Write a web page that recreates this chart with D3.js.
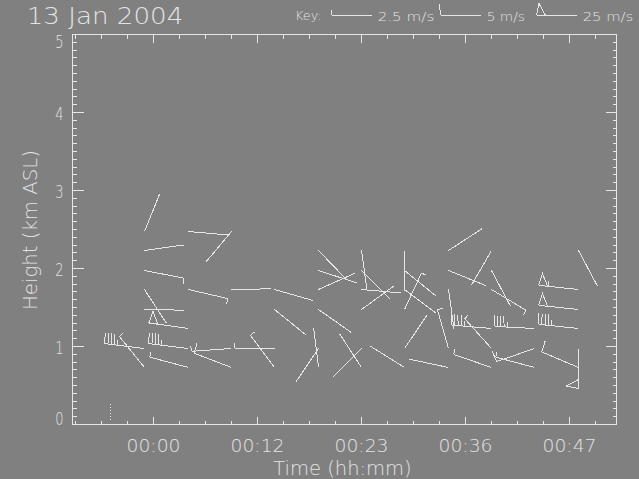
<!DOCTYPE html>
<html><head><meta charset="utf-8">
<script src="https://cdn.jsdelivr.net/npm/d3@7"></script>
<style>html,body{margin:0;padding:0;background:#808080;overflow:hidden}
text{font-family:"DejaVu Sans","Liberation Sans",sans-serif;font-weight:200;fill:#e4e4e4}</style>
</head><body><svg id="c" width="639" height="479"></svg>
<script>
// ---------------- data ----------------
const titleText = "13 Jan 2004";
const xTickValues = [0, 12, 24, 36, 48];               // minutes
const xTickLabels = ["00:00", "00:12", "00:23", "00:36", "00:47"];
const yTickValues = [0, 1, 2, 3, 4, 5];                // km
const keySpeeds = [2.5, 5, 25];
const keyLabels = ["2.5 m/s", "5 m/s", "25 m/s"];
const colTimes = [-1, 4, 9, 14, 19, 24, 29, 34, 39, 44, 49];          // minutes
const gateHeights = [0.73, 0.98, 1.23, 1.48, 1.73, 1.98, 2.23, 2.48];  // km
// one entry per wind barb
const barbCol   = [0,0,0,0,0,0,0, 1,1,1,1,1, 2,2,2,2, 3,3,3,3, 4,4,4,4,4,4, 5,5,5,5,5,5, 6,6,6,6,6,6, 7,7,7,7,7, 8,8,8,8,8,8, 9,9,9, 10,10,10,10,10,10];
const barbGate  = [7,6,5,4,3,1,0, 7,4,2,1,0, 7,4,1,0, 4,3,1,0, 6,5,4,3,1,0, 6,5,4,3,1,0, 6,5,4,3,1,0, 6,5,4,1,0, 6,5,4,2,1,0, 2,1,0, 6,4,3,2,1,0];
const barbDir   = [22,82,101,147,91,277,321, 95,103,278,277,285, 220,89,266,291, 106,129,270,323,
                   136,108,66,125,214,353, 172,135,95,54,225,327, 180,129,127,25,34,302,
                   57,112,172,344,282, 210,152,121,275,318,289, 273,251,285, 152,276,276,276,180,293];
const barbSpeed = [1,1,2.5,1,1,22.5,2.5, 1,2.5,25,22.5,2.5, 1,1,2.5,5, 1,1,2.5,2.5,
                   1,1,1,1,1,1, 1,1,1,1,1,1, 1,1,1,2.5,1,1,
                   1,1,1,2.5,1, 1,1,2.5,22.5,2.5,2.5, 22.5,5,2.5, 1,27.5,25,22.5,25,5];
const markerTime = [-5], markerTop = [0.26], markerBottom = [0.05];

// ---------------- drawing ----------------
const fg = "#e6e6e6";
const svg = d3.select("#c");
svg.append("rect").attr("width",639).attr("height",479).attr("fill","#808080");
const x = d3.scaleLinear().domain([-9.346, 53.423]).range([72.5, 616.5]);
const y = d3.scaleLinear().domain([0, 5]).range([424.5, 34.5]);
const snap = v => Math.round(v - 0.5) + 0.5;

// frame
svg.append("rect").attr("x",x.range()[0]).attr("y",y.range()[1])
  .attr("width",x.range()[1]-x.range()[0]).attr("height",y.range()[0]-y.range()[1])
  .attr("fill","none").attr("stroke",fg).attr("shape-rendering","crispEdges");

const xMinor = d3.range(-9, 54, 3).filter(v => v % 12 !== 0);
const yMinor = d3.range(0, 51).filter(i => i % 10 !== 0).map(i => i / 10);
function axisG(gen, tr){
  const g = svg.append("g").attr("transform", tr).call(gen);
  g.select(".domain").remove();
  g.selectAll("line").attr("stroke", fg).attr("shape-rendering","crispEdges");
  g.selectAll("text").remove();
  return g;
}
const X0 = x.range()[0], X1 = x.range()[1], Y0 = y.range()[0], Y1 = y.range()[1];
axisG(d3.axisBottom(x).tickValues(xMinor).tickSizeInner(-4).tickSizeOuter(0).offset(0), `translate(0,${Y0})`);
axisG(d3.axisBottom(x).tickValues(xTickValues).tickSizeInner(-8).tickSizeOuter(0).offset(0), `translate(0,${Y0})`);
axisG(d3.axisTop(x).tickValues(xMinor).tickSizeInner(-4).tickSizeOuter(0).offset(0), `translate(0,${Y1})`);
axisG(d3.axisTop(x).tickValues(xTickValues).tickSizeInner(-8).tickSizeOuter(0).offset(0), `translate(0,${Y1})`);
axisG(d3.axisLeft(y).tickValues(yMinor).tickSizeInner(-4).tickSizeOuter(0).offset(0), `translate(${X0},0)`);
axisG(d3.axisLeft(y).tickValues(yTickValues).tickSizeInner(-11).tickSizeOuter(0).offset(0), `translate(${X0},0)`);
axisG(d3.axisRight(y).tickValues(yMinor).tickSizeInner(-4).tickSizeOuter(0).offset(0), `translate(${X1},0)`);
axisG(d3.axisRight(y).tickValues(yTickValues).tickSizeInner(-11).tickSizeOuter(0).offset(0), `translate(${X1},0)`);

// tick labels
svg.append("g").selectAll("text").data(xTickValues).join("text")
  .attr("x", d => x(d)).attr("y", 451.7).attr("text-anchor","middle")
  .attr("font-size", 18.4).attr("textLength", 54).attr("lengthAdjust","spacingAndGlyphs")
  .text((d,i) => xTickLabels[i]);
svg.append("g").selectAll("text").data(yTickValues).join("text")
  .attr("x", 63.5).attr("text-anchor","end")
  .attr("y", d => Math.max(Y1 + 7, Math.min(Y0 - 6.5, y(d) + 1)) + 6.5)
  .attr("font-size", 18.2).attr("textLength", 8.3).attr("lengthAdjust","spacingAndGlyphs")
  .text(d => String(d));

// titles
svg.append("text").attr("x", 26.7).attr("y", 24).attr("font-size", 23.7)
  .attr("textLength", 156.6).attr("lengthAdjust","spacingAndGlyphs").text(titleText);
svg.append("text").attr("x", 273.3).attr("y", 475).attr("font-size", 19.2)
  .attr("textLength", 138.4).attr("lengthAdjust","spacingAndGlyphs").text("Time (hh:mm)");
svg.append("text").attr("transform","translate(36.7,230) rotate(-90)").attr("text-anchor","middle")
  .attr("font-size", 19.2).attr("textLength", 160).attr("lengthAdjust","spacingAndGlyphs")
  .text("Height (km ASL)");

// wind barb geometry
function barbPath(x0, y0, dirDeg, speed){
  const th = dirDeg * Math.PI / 180;
  const ux = Math.sin(th), uy = -Math.cos(th);   // staff direction
  const vx = Math.cos(th), vy = Math.sin(th);    // tick direction
  const L = 40;
  const ex = x0 + L*ux, ey = y0 + L*uy;
  let p = `M${x0},${y0}L${ex},${ey}`;
  let n = Math.round(speed / 2.5);
  const pen = Math.floor(n / 10); n -= pen * 10;
  const full = Math.floor(n / 2), half = n % 2;
  let s = 0;
  const at = d => [ex - d*ux, ey - d*uy];
  for (let k = 0; k < pen; k++){
    const a = at(s), b = at(s + 9), c0 = at(s + 2.5);
    const c = [c0[0] + 12*vx, c0[1] + 12*vy];
    p += `M${a[0]},${a[1]}L${c[0]},${c[1]}L${b[0]},${b[1]}`;
    s += 10;
  }
  for (let k = 0; k < full; k++){
    const a = at(s);
    p += `M${a[0]},${a[1]}L${a[0] + 11*vx + 1*ux},${a[1] + 11*vy + 1*uy}`;
    s += 3.2;
  }
  if (half){
    const a = at(s);
    p += `M${a[0]},${a[1]}L${a[0] + 5.5*vx + 0.5*ux},${a[1] + 5.5*vy + 0.5*uy}`;
  }
  return p;
}

svg.append("g").selectAll("path").data(barbDir).join("path")
  .attr("d", (d,i) => barbPath(snap(x(colTimes[barbCol[i]])), snap(y(gateHeights[barbGate[i]])), d, barbSpeed[i]))
  .attr("fill","none").attr("stroke", fg).attr("shape-rendering","crispEdges");

// dotted marker
svg.append("g").selectAll("line").data(markerTime).join("line")
  .attr("x1", d => snap(x(d))).attr("x2", d => snap(x(d)))
  .attr("y1", (d,i) => y(markerTop[i])).attr("y2", (d,i) => y(markerBottom[i]))
  .attr("stroke", fg).attr("stroke-dasharray","1,2").attr("shape-rendering","crispEdges");

// key
const keyTextX = [377.7, 486.7, 582.7], keyTextW = [56.6, 38.3, 50.6];
svg.append("text").attr("x", 295).attr("y", 20).attr("font-size", 12.4)
  .attr("textLength", 26.7).attr("lengthAdjust","spacingAndGlyphs").text("Key:");
const kg = svg.append("g");
kg.selectAll("path").data(keySpeeds).join("path")
  .attr("d", (d,i) => barbPath(snap(keyTextX[i] - 6.5), 15.5, 270, d))
  .attr("fill","none").attr("stroke", fg).attr("shape-rendering","crispEdges");
kg.selectAll("text").data(keyLabels).join("text")
  .attr("x", (d,i) => keyTextX[i]).attr("y", 20.5).attr("font-size", 12.4)
  .attr("textLength", (d,i) => keyTextW[i]).attr("lengthAdjust","spacingAndGlyphs")
  .text(d => d);
</script></body></html>
